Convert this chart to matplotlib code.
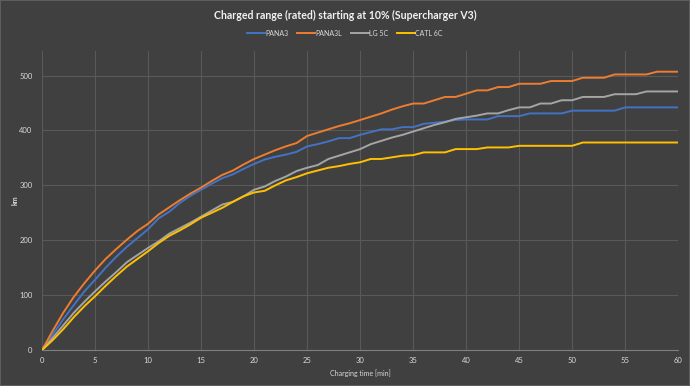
import matplotlib
matplotlib.use("Agg")
import matplotlib.pyplot as plt

minutes = list(range(0, 61))

pana3 = [0, 28, 56, 82, 107, 128, 150, 170, 188, 204, 220, 240, 252, 268, 281, 292,
         303, 313, 320, 330, 339, 347, 352, 356, 361, 371, 375, 380, 386, 386, 392,
         397, 402, 402, 406, 406, 412, 414, 416, 419, 420, 420, 420, 426, 426, 426,
         431, 431, 431, 431, 436, 436, 436, 436, 436, 442, 442, 442, 442, 442, 442]

pana3l = [0, 35, 68, 97, 122, 145, 166, 184, 201, 217, 230, 247, 260, 273, 285, 296,
          308, 319, 327, 338, 348, 356, 364, 371, 377, 390, 396, 402, 408, 413, 419,
          425, 431, 438, 444, 449, 449, 455, 461, 461, 467, 473, 473, 479, 479, 485,
          485, 485, 490, 490, 490, 496, 496, 496, 502, 502, 502, 502, 507, 507, 507]

lg5c = [0, 22, 45, 68, 88, 107, 125, 142, 160, 173, 186, 198, 212, 222, 232, 243,
        254, 265, 270, 280, 292, 298, 308, 316, 326, 332, 337, 348, 354, 360, 366,
        375, 381, 387, 392, 398, 404, 410, 415, 421, 424, 427, 431, 431, 437, 442,
        442, 449, 449, 455, 455, 461, 461, 461, 466, 466, 466, 471, 471, 471, 471]

catl6c = [0, 18, 38, 60, 80, 98, 117, 135, 152, 166, 180, 195, 208, 218, 229, 241,
          250, 259, 270, 280, 287, 290, 300, 309, 315, 322, 327, 332, 335, 339, 342,
          348, 348, 351, 354, 355, 360, 360, 360, 366, 366, 366, 369, 369, 369, 372,
          372, 372, 372, 372, 372, 378, 378, 378, 378, 378, 378, 378, 378, 378, 378]

series = [("PANA3", pana3, "#4472C4"),
          ("PANA3L", pana3l, "#ED7D31"),
          ("LG 5C", lg5c, "#A5A5A5"),
          ("CATL 6C", catl6c, "#FFC000")]

bg = "#404040"
text_col = "#D9D9D9"
grid_col = "#595959"

plt.rcParams["font.family"] = ["Lato", "DejaVu Sans"]

fig = plt.figure(figsize=(6.9, 3.86), dpi=100, facecolor=bg,
                 edgecolor="#5E5E5E", linewidth=1.2)
ax = fig.add_axes([0.061, 0.0933, 0.922, 0.775], facecolor=bg)

for name, vals, col in series:
    ax.plot(minutes, vals, color=col, lw=1.4, label=name)

ax.set_xlim(0, 60)
ax.set_ylim(0, 545)
ax.set_xticks(range(0, 61, 5))
ax.set_yticks(range(0, 501, 100))
ax.grid(True, color=grid_col, lw=0.8)
ax.set_axisbelow(True)
for side in ["top", "right", "left"]:
    ax.spines[side].set_visible(False)
ax.spines["bottom"].set_color("#7F7F7F")
ax.tick_params(length=0, colors=text_col, labelsize=5.5)
ax.tick_params(axis="y", pad=7)
ax.tick_params(axis="x", pad=5)

ax.set_xlabel("Charging time [min]", color=text_col, fontsize=5, labelpad=4)
ax.set_ylabel("km", color=text_col, fontsize=5, fontweight="bold", va="center")
ax.yaxis.set_label_coords(-0.042, 0.5)

fig.suptitle("Charged range (rated) starting at 10% (Supercharger V3)",
             color="#F2F2F2", fontsize=7.6, fontweight="bold", y=0.961, va="center")

leg = fig.legend(loc="center", bbox_to_anchor=(0.5, 0.914), ncol=4, frameon=False,
                 fontsize=5, handlelength=2.5, handletextpad=0.1, columnspacing=1.3)
for t in leg.get_texts():
    t.set_color(text_col)

fig.savefig("out.png", dpi=100, facecolor=bg, edgecolor=fig.get_edgecolor())
